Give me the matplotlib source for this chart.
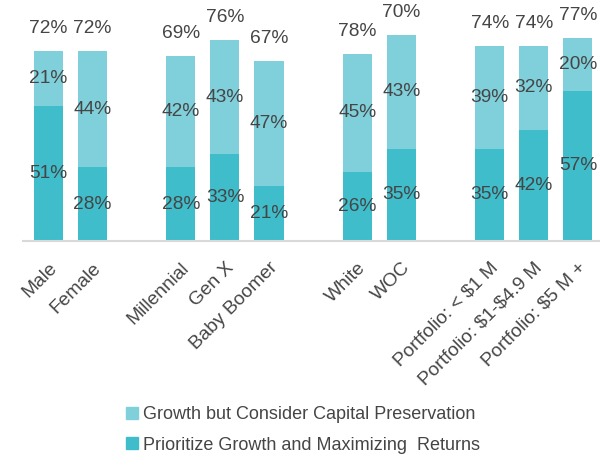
import matplotlib.pyplot as plt
from matplotlib.patches import Patch

plt.rcParams['font.family'] = ['Liberation Sans', 'DejaVu Sans']
plt.rcParams['text.parse_math'] = False

# =========================
# DATA
# =========================
categories = [
    "Male", "Female",
    "Millennial", "Gen X", "Baby Boomer",
    "White", "WOC",
    "Portfolio: < $1 M", "Portfolio: $1-$4.9 M", "Portfolio: $5 M +",
]
# slot index of each bar (empty slots separate the groups)
slots = [0, 1, 3, 4, 5, 7, 8, 10, 11, 12]

prioritize = [51, 28, 28, 33, 21, 26, 35, 35, 42, 57]
consider = [21, 44, 42, 43, 47, 45, 43, 39, 32, 20]
totals = [72, 72, 69, 76, 67, 78, 70, 74, 74, 77]

DARK = "#3FBDCB"
LIGHT = "#80D0DB"
TEXT = "#454545"
FS = 13.8

# =========================
# FIGURE
# =========================
fig = plt.figure(figsize=(6, 4.72), dpi=100)
ax = fig.add_axes([0.038, 0.489, 0.962, 0.504])

width = 0.66
ax.bar(slots, prioritize, width, color=DARK, linewidth=0)
ax.bar(slots, consider, width, bottom=prioritize, color=LIGHT, linewidth=0)

for x, p, c, t in zip(slots, prioritize, consider, totals):
    ax.text(x, p / 2, f"{p}%", ha="center", va="center",
            fontsize=FS, color=TEXT, clip_on=False)
    ax.text(x, p + c / 2, f"{c}%", ha="center", va="center",
            fontsize=FS, color=TEXT, clip_on=False)
    ax.text(x, p + c + 8.5, f"{t}%", ha="center", va="center",
            fontsize=FS, color=TEXT, clip_on=False)

ax.set_xlim(-0.58, 12.5)
ax.set_ylim(0, 90)

for side in ["top", "right", "left"]:
    ax.spines[side].set_visible(False)
ax.spines["bottom"].set_color("#D9D9D9")
ax.spines["bottom"].set_linewidth(1.5)

ax.set_yticks([])
ax.set_xticks(slots)
ax.set_xticklabels(categories, rotation=45, ha="right",
                   rotation_mode="anchor", fontsize=13.8, color=TEXT)
ax.tick_params(axis="x", length=0, pad=13)

# =========================
# LEGEND
# =========================
handles = [
    Patch(color=LIGHT, label="Growth but Consider Capital Preservation"),
    Patch(color=DARK, label="Prioritize Growth and Maximizing  Returns"),
]
fig.legend(handles=handles, loc="center",
           bbox_to_anchor=(0.505, 1 - 430 / 472),
           frameon=False, fontsize=13, labelcolor=TEXT,
           handlelength=0.65, handleheight=0.65, handletextpad=0.3,
           labelspacing=0.75)

fig.savefig("out.png", dpi=100)
